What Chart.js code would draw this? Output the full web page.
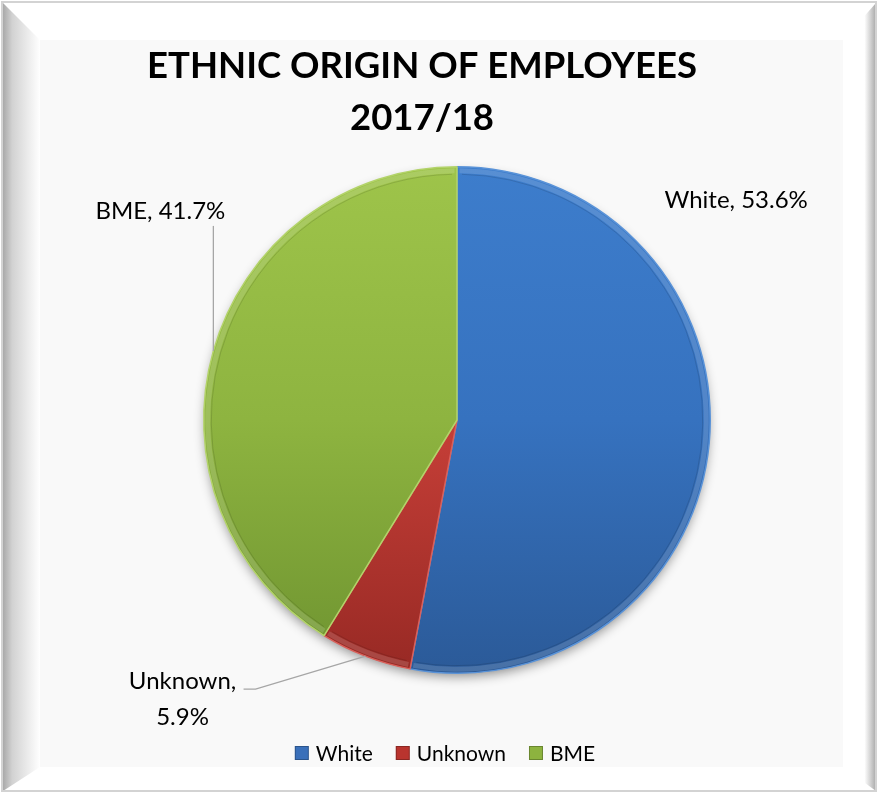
<!DOCTYPE html>
<html>
<head>
<meta charset="utf-8">
<script src="https://cdn.jsdelivr.net/npm/chart.js@4.4.0/dist/chart.umd.min.js"></script>
<style>
  html, body { margin: 0; padding: 0; background: #fff; overflow: hidden; }
  #pie { display: block; }
</style>
</head>
<body>
<canvas id="pie" width="878" height="793"></canvas>
<script>
// Dados
const titleLines = ["ETHNIC ORIGIN OF EMPLOYEES", "2017/18"];
const categories = ["White", "Unknown", "BME"];
const percentValues = [53.6, 5.9, 41.7];

// Estilo
const fontFamily = "Lato, 'Noto Sans', sans-serif";
const sliceStops = [
  [[0, "#3d7dcc"], [0.5, "#3672bf"], [1, "#2b5a98"]],
  [[0, "#cc433b"], [0.55, "#c23d36"], [1, "#972924"]],
  [[0, "#9ec44a"], [0.5, "#8eb440"], [1, "#6e9330"]]
];
const sliceEdge = ["#5a93d8", "#d9605a", "#b3d36a"];
const legendColors = ["#3a70ba", "#b9342e", "#8db33f"];

// posição das etiquetas em relação ao ponto médio da borda de cada fatia
const labelLayout = [
  { dx: 27, dy: -243, leader: [], wrap: false },
  { dx: -183, dy: 25, leader: [[-110, 33], [-122, 33]], wrap: true },
  { dx: -53, dy: -140, leader: [[0, -125]], wrap: false }
];

function sliceGradient(context) {
  const chart = context.chart;
  const area = chart.chartArea;
  if (!area) return sliceStops[context.dataIndex][1][1];
  const g = chart.ctx.createLinearGradient(0, area.top, 0, area.bottom);
  sliceStops[context.dataIndex].forEach(s => g.addColorStop(s[0], s[1]));
  return g;
}

const framePlugin = {
  id: "frame",
  beforeDraw(chart) {
    const ctx = chart.ctx;
    const W = chart.width, H = chart.height;
    const L = 40, T = 40, R = 843, B = 767;
    ctx.save();
    ctx.fillStyle = "#fff";
    ctx.fillRect(0, 0, W, H);
    // lado esquerdo
    let g = ctx.createLinearGradient(3, 0, L, 0);
    g.addColorStop(0, "#a9a9a9");
    g.addColorStop(0.25, "#d2d2d2");
    g.addColorStop(1, "#ffffff");
    ctx.fillStyle = g;
    ctx.beginPath();
    ctx.moveTo(3, 3); ctx.lineTo(L, T); ctx.lineTo(L, B); ctx.lineTo(3, H - 2);
    ctx.closePath(); ctx.fill();
    // lado direito
    g = ctx.createLinearGradient(R, 0, W - 2, 0);
    g.addColorStop(0, "#ffffff");
    g.addColorStop(0.65, "#ffffff");
    g.addColorStop(1, "#a9a9a9");
    ctx.fillStyle = g;
    ctx.beginPath();
    ctx.moveTo(W - 2, 3); ctx.lineTo(R, T); ctx.lineTo(R, B); ctx.lineTo(W - 2, H - 2);
    ctx.closePath(); ctx.fill();
    // painel
    ctx.fillStyle = "#f9f9f9";
    ctx.fillRect(L, T, R - L, B - T);
    ctx.strokeStyle = "#d3d3d3";
    ctx.lineWidth = 2;
    ctx.strokeRect(2, 2, W - 4, H - 4);
    ctx.restore();
  },
  afterDraw(chart) {
    const ctx = chart.ctx;
    ctx.save();
    ctx.fillStyle = "#000";
    ctx.textAlign = "center";
    ctx.textBaseline = "middle";
    ctx.font = "bold 36.5px " + fontFamily;
    titleLines.forEach((t, i) => ctx.fillText(t, 422, 66 + i * 52));

    // Legenda
    ctx.font = "21px " + fontFamily;
    const box = 14, gapText = 7, gapItem = 23;
    const widths = categories.map(c => box + gapText + ctx.measureText(c).width);
    const total = widths.reduce((a, b) => a + b, 0) + gapItem * (categories.length - 1);
    let x = 445 - total / 2;
    const y = 753;
    ctx.textAlign = "left";
    categories.forEach((c, i) => {
      ctx.fillStyle = legendColors[i];
      ctx.fillRect(x, y - box / 2, box, box);
      ctx.strokeStyle = "rgba(0,0,0,0.25)";
      ctx.lineWidth = 1;
      ctx.strokeRect(x + 0.5, y - box / 2 + 0.5, box - 1, box - 1);
      ctx.fillStyle = "#000";
      ctx.fillText(c, x + box + gapText, y + 1);
      x += widths[i] + gapItem;
    });
    ctx.restore();
  }
};

const pieEffects = {
  id: "pieEffects",
  beforeDatasetsDraw(chart) {
    const arc = chart.getDatasetMeta(0).data[0];
    if (!arc) return;
    const ctx = chart.ctx;
    ctx.save();
    ctx.shadowColor = "rgba(0,0,0,0.45)";
    ctx.shadowBlur = 12;
    ctx.shadowOffsetY = 5;
    ctx.fillStyle = "#7a7a7a";
    ctx.beginPath();
    ctx.arc(arc.x, arc.y, arc.outerRadius - 2, 0, Math.PI * 2);
    ctx.fill();
    ctx.restore();
  },
  afterDatasetsDraw(chart) {
    const ctx = chart.ctx;
    const arcs = chart.getDatasetMeta(0).data;
    ctx.save();
    // bisel
    arcs.forEach((arc, i) => {
      ctx.beginPath();
      ctx.arc(arc.x, arc.y, arc.outerRadius - 4, arc.startAngle + 0.01, arc.endAngle - 0.01);
      ctx.strokeStyle = "rgba(255,255,255,0.14)";
      ctx.lineWidth = 5;
      ctx.stroke();
      ctx.beginPath();
      ctx.arc(arc.x, arc.y, arc.outerRadius - 7.5, arc.startAngle + 0.02, arc.endAngle - 0.02);
      ctx.strokeStyle = "rgba(0,0,0,0.12)";
      ctx.lineWidth = 1;
      ctx.stroke();
    });

    // Etiquetas
    ctx.font = "24px " + fontFamily;
    ctx.textAlign = "center";
    ctx.textBaseline = "middle";
    arcs.forEach((arc, i) => {
      const mid = (arc.startAngle + arc.endAngle) / 2;
      const ex = arc.x + arc.outerRadius * Math.cos(mid);
      const ey = arc.y + arc.outerRadius * Math.sin(mid);
      const lay = labelLayout[i];
      if (lay.leader.length) {
        ctx.beginPath();
        ctx.moveTo(ex, ey);
        lay.leader.forEach(p => ctx.lineTo(ex + p[0], ey + p[1]));
        ctx.strokeStyle = "#a6a6a6";
        ctx.lineWidth = 1.3;
        ctx.stroke();
      }
      const pct = percentValues[i].toFixed(1) + "%";
      const lines = lay.wrap ? [categories[i] + ",", pct] : [categories[i] + ", " + pct];
      ctx.fillStyle = "#000";
      lines.forEach((t, k) => ctx.fillText(t, ex + lay.dx, ey + lay.dy + k * 36));
    });
    ctx.restore();
  }
};

new Chart(document.getElementById("pie"), {
  type: "pie",
  data: {
    labels: categories,
    datasets: [{
      data: percentValues,
      backgroundColor: sliceGradient,
      borderColor: sliceEdge,
      borderWidth: 1.5
    }]
  },
  options: {
    responsive: false,
    animation: false,
    devicePixelRatio: 1,
    layout: { padding: { top: 166, bottom: 119, left: 203, right: 167 } },
    plugins: {
      legend: { display: false },
      title: { display: false },
      tooltip: { enabled: false }
    }
  },
  plugins: [framePlugin, pieEffects]
});
</script>
</body>
</html>
